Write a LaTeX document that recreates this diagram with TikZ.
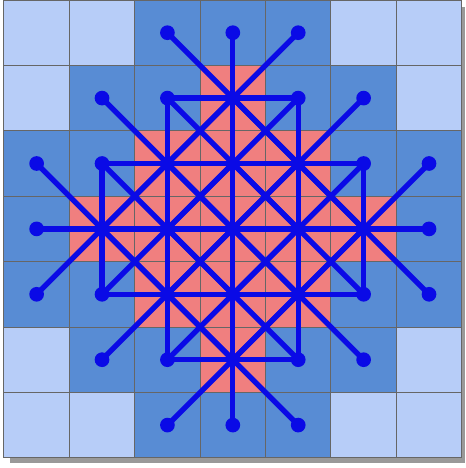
\documentclass[tikz,border=0pt]{standalone}
\usepackage{xcolor}
\definecolor{cellout}{HTML}{B7CDF8}
\definecolor{cellbnd}{HTML}{588CD4}
\definecolor{cellin}{HTML}{F07F7F}
\definecolor{linkblue}{HTML}{0A0AE6}
\usepackage{tikz}
\usetikzlibrary{calc}
\begin{document}
\begin{tikzpicture}[
    link/.style={linkblue,line width=2.3pt,line cap=round},
    bdot/.style={circle,fill=linkblue,inner sep=0pt,minimum size=6.4pt}]
  \useasboundingbox (-0.06,-0.156) rectangle (7.064,7);
  \fill[black!40] (0.1,-0.085) rectangle (7.055,6.9);
  \foreach \row [count=\r from 0] in {
      {cellout,cellout,cellbnd,cellbnd,cellbnd,cellout,cellout},
      {cellout,cellbnd,cellbnd,cellin,cellbnd,cellbnd,cellout},
      {cellbnd,cellbnd,cellin,cellin,cellin,cellbnd,cellbnd},
      {cellbnd,cellin,cellin,cellin,cellin,cellin,cellbnd},
      {cellbnd,cellbnd,cellin,cellin,cellin,cellbnd,cellbnd},
      {cellout,cellbnd,cellbnd,cellin,cellbnd,cellbnd,cellout},
      {cellout,cellout,cellbnd,cellbnd,cellbnd,cellout,cellout}}
    \foreach \t [count=\c from 0] in \row {
      \fill[fill=\t] (\c,6-\r) rectangle ++(1,1);
      \coordinate (n\r\c) at (\c+0.5,6.5-\r);
    }
  \draw[black!60,line width=0.4pt] (0,0) grid (7,7);
  \foreach \r/\c in {1/3,2/2,2/3,2/4,3/1,3/2,3/3,3/4,3/5,4/2,4/3,4/4,5/3}
    \foreach \dr/\dc in {-1/-1,-1/0,-1/1,0/-1,0/1,1/-1,1/0,1/1} {
      \pgfmathtruncatemacro\rr{\r+\dr}
      \pgfmathtruncatemacro\cc{\c+\dc}
      \draw[link] (n\r\c) -- (n\rr\cc);
    }
  \foreach \r/\c in {0/2,0/3,0/4,1/1,1/2,1/4,1/5,2/0,2/1,2/5,2/6,3/0,3/6,
                     4/0,4/1,4/5,4/6,5/1,5/2,5/4,5/5,6/2,6/3,6/4}
    \node[bdot] (d\r\c) at (n\r\c) {};
\end{tikzpicture}
\end{document}
